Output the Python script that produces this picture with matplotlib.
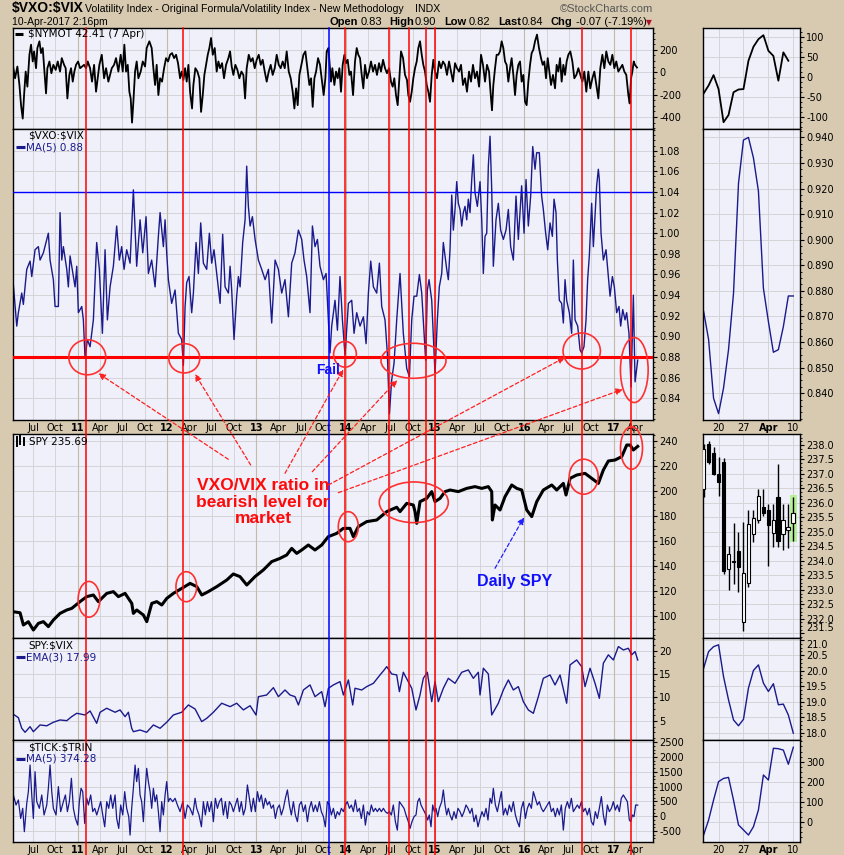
import matplotlib
matplotlib.use('Agg')
import matplotlib.pyplot as plt
import matplotlib.transforms as mtransforms
import numpy as np
from matplotlib.lines import Line2D
from matplotlib.patches import Ellipse, FancyArrowPatch
from matplotlib.ticker import AutoMinorLocator, FormatStrFormatter

# ---------------- data (x = decimal year) ----------------
nymot_t = [
    2010.279, 2010.298, 2010.324, 2010.347, 2010.365, 2010.384, 2010.399, 2010.417, 2010.436, 2010.459,
    2010.477, 2010.496, 2010.511, 2010.533, 2010.548, 2010.571, 2010.589, 2010.608, 2010.627, 2010.645,
    2010.660, 2010.683, 2010.705, 2010.727, 2010.753, 2010.776, 2010.802, 2010.821, 2010.847, 2010.865,
    2010.884, 2010.906, 2010.925, 2010.944, 2010.962, 2010.981, 2011.004, 2011.026, 2011.048, 2011.071,
    2011.093, 2011.112, 2011.138, 2011.160, 2011.183, 2011.205, 2011.224, 2011.242, 2011.269, 2011.295,
    2011.317, 2011.343, 2011.362, 2011.381, 2011.407, 2011.429, 2011.455, 2011.481, 2011.504, 2011.522,
    2011.541, 2011.560, 2011.578, 2011.593, 2011.608, 2011.623, 2011.642, 2011.660, 2011.679, 2011.705,
    2011.728, 2011.754, 2011.772, 2011.802, 2011.828, 2011.847, 2011.866, 2011.884, 2011.903, 2011.922,
    2011.944, 2011.967, 2011.989, 2012.011, 2012.034, 2012.056, 2012.079, 2012.101, 2012.123, 2012.146,
    2012.164, 2012.183, 2012.202, 2012.220, 2012.239, 2012.258, 2012.280, 2012.295, 2012.317, 2012.340,
    2012.362, 2012.381, 2012.400, 2012.418, 2012.437, 2012.456, 2012.474, 2012.493, 2012.512, 2012.534,
    2012.556, 2012.575, 2012.594, 2012.616, 2012.638, 2012.661, 2012.687, 2012.706, 2012.724, 2012.743,
    2012.765, 2012.788, 2012.810, 2012.833, 2012.855, 2012.874, 2012.892, 2012.915, 2012.937, 2012.959,
    2012.982, 2013.004, 2013.027, 2013.049, 2013.071, 2013.094, 2013.116, 2013.139, 2013.161, 2013.183,
    2013.206, 2013.228, 2013.251, 2013.273, 2013.295, 2013.318, 2013.340, 2013.363, 2013.385, 2013.407,
    2013.426, 2013.445, 2013.463, 2013.482, 2013.504, 2013.527, 2013.549, 2013.572, 2013.594, 2013.613,
    2013.631, 2013.650, 2013.669, 2013.691, 2013.713, 2013.736, 2013.754, 2013.773, 2013.788, 2013.807,
    2013.836, 2013.851, 2013.874, 2013.892, 2013.911, 2013.930, 2013.948, 2013.967, 2013.986, 2014.004,
    2014.023, 2014.042, 2014.060, 2014.083, 2014.105, 2014.124, 2014.142, 2014.161, 2014.180, 2014.198,
    2014.217, 2014.239, 2014.262, 2014.284, 2014.307, 2014.329, 2014.351, 2014.374, 2014.396, 2014.419,
    2014.441, 2014.463, 2014.486, 2014.508, 2014.527, 2014.545, 2014.564, 2014.583, 2014.601, 2014.620,
    2014.643, 2014.665, 2014.687, 2014.702, 2014.721, 2014.740, 2014.758, 2014.777, 2014.796, 2014.814,
    2014.833, 2014.852, 2014.870, 2014.889, 2014.908, 2014.926, 2014.945, 2014.964, 2014.982, 2015.001,
    2015.023, 2015.046, 2015.068, 2015.090, 2015.113, 2015.135, 2015.158, 2015.180, 2015.202, 2015.225,
    2015.247, 2015.270, 2015.292, 2015.314, 2015.337, 2015.359, 2015.382, 2015.404, 2015.426, 2015.449,
    2015.471, 2015.494, 2015.516, 2015.538, 2015.561, 2015.583, 2015.606, 2015.628, 2015.639, 2015.654,
    2015.673, 2015.691, 2015.710, 2015.729, 2015.747, 2015.766, 2015.785, 2015.803, 2015.822, 2015.841,
    2015.859, 2015.878, 2015.897, 2015.915, 2015.934, 2015.953, 2015.971, 2015.990, 2016.009, 2016.027,
    2016.046, 2016.065, 2016.083, 2016.102, 2016.121, 2016.143, 2016.165, 2016.188, 2016.207, 2016.225,
    2016.244, 2016.263, 2016.281, 2016.300, 2016.322, 2016.345, 2016.363, 2016.382, 2016.401, 2016.419,
    2016.438, 2016.457, 2016.475, 2016.494, 2016.516, 2016.539, 2016.561, 2016.584, 2016.606, 2016.628,
    2016.651, 2016.673, 2016.695, 2016.718, 2016.740, 2016.763, 2016.785, 2016.807, 2016.830, 2016.852,
    2016.875, 2016.897, 2016.919, 2016.942, 2016.964, 2016.987, 2017.009, 2017.031, 2017.054, 2017.076,
    2017.099, 2017.121, 2017.143, 2017.166, 2017.181, 2017.196, 2017.211, 2017.226, 2017.240, 2017.263]
nymot_v = [
    36, -54, 51, -114, -294, -414, -204, 6, -129, 156,
    246, 96, 186, 36, 216, 276, 171, 216, 6, -189,
    36, 96, -9, 66, 21, 96, 6, 126, 66, 36,
    -234, -24, 36, -84, 6, 66, 96, 36, 51, 66,
    36, 96, 36, -84, 66, -174, -54, 66, 156, -54,
    36, -84, -24, 36, 66, 126, 6, 156, 6, 246,
    6, 66, -174, -234, -450, -264, 6, 96, -54, 6,
    96, 51, 216, 276, 216, 36, -114, 66, -204, -54,
    -84, 36, 126, 96, 156, 171, 126, 156, 81, -54,
    6, -69, 36, -84, 66, -174, -324, -114, 36, 6,
    -54, -354, -204, -24, 66, 156, 216, 306, 156, 216,
    6, 96, 36, 81, -54, 66, 126, 186, 51, -24,
    66, 21, -54, 6, -24, -234, 36, 156, 96, 126,
    36, 111, 156, 66, 111, 6, -84, 6, 66, -24,
    36, 156, 66, 36, 96, 36, 186, 6, -54, -174,
    -324, -144, -294, -24, 66, 156, 186, 36, -114, -54,
    -309, -54, 6, 126, 66, -84, -204, -54, 186, 216,
    -84, 36, -114, 6, -54, 36, -174, 66, 156, 81,
    111, -24, 6, -204, 96, 216, 156, 126, -24, -144,
    66, -54, 6, 96, 6, 66, -24, 81, 6, 111,
    36, -9, 36, -84, -129, -54, -204, -294, -54, 186,
    126, -24, -69, -204, -264, -174, -54, 36, 96, 216,
    276, 156, 66, 6, -114, -174, -264, -24, 111, 6,
    -54, 96, 36, 96, 66, -24, 96, 6, -84, 81,
    36, 6, 66, -114, -54, -174, 6, -84, 66, -54,
    6, -129, 156, 66, -84, 66, 6, -234, -339, -114,
    36, 156, 156, 186, 276, 216, 96, 66, -84, 36,
    126, -24, -204, -24, 66, 96, -84, -24, -264, -294,
    -84, 66, 171, 201, 276, 336, 216, 126, 66, 96,
    -54, 126, 6, -114, -24, -144, 66, 6, 126, -84,
    66, -24, 96, 156, 186, 96, -54, -24, 36, -24,
    -84, 6, -174, 6, -144, -54, 6, -114, -234, 36,
    156, 36, 186, 96, 66, 156, 36, 96, 6, 36,
    66, 6, -24, -204, -279, -54, 6, 96, 66, 42]

vxo_t = [
    2010.279, 2010.317, 2010.335, 2010.373, 2010.391, 2010.429, 2010.466, 2010.485, 2010.522, 2010.559,
    2010.578, 2010.615, 2010.653, 2010.671, 2010.690, 2010.727, 2010.746, 2010.783, 2010.802, 2010.821,
    2010.839, 2010.877, 2010.895, 2010.914, 2010.951, 2010.970, 2010.989, 2011.007, 2011.045, 2011.063,
    2011.082, 2011.108, 2011.138, 2011.175, 2011.212, 2011.242, 2011.276, 2011.306, 2011.332, 2011.362,
    2011.399, 2011.436, 2011.466, 2011.492, 2011.519, 2011.548, 2011.586, 2011.623, 2011.660, 2011.698,
    2011.728, 2011.765, 2011.791, 2011.828, 2011.866, 2011.903, 2011.922, 2011.959, 2011.978, 2011.996,
    2012.015, 2012.052, 2012.090, 2012.127, 2012.164, 2012.183, 2012.202, 2012.220, 2012.246, 2012.276,
    2012.295, 2012.325, 2012.351, 2012.377, 2012.407, 2012.444, 2012.474, 2012.500, 2012.526, 2012.556,
    2012.594, 2012.623, 2012.650, 2012.687, 2012.706, 2012.724, 2012.750, 2012.780, 2012.799, 2012.818,
    2012.847, 2012.874, 2012.892, 2012.911, 2012.930, 2012.956, 2012.986, 2013.023, 2013.060, 2013.098,
    2013.135, 2013.172, 2013.210, 2013.247, 2013.284, 2013.321, 2013.359, 2013.396, 2013.433, 2013.471,
    2013.508, 2013.534, 2013.564, 2013.601, 2013.628, 2013.657, 2013.684, 2013.713, 2013.751, 2013.781,
    2013.807, 2013.825, 2013.844, 2013.881, 2013.908, 2013.937, 2013.964, 2013.993, 2014.031, 2014.068,
    2014.094, 2014.124, 2014.161, 2014.199, 2014.229, 2014.255, 2014.281, 2014.311, 2014.348, 2014.378,
    2014.404, 2014.441, 2014.467, 2014.490, 2014.516, 2014.542, 2014.572,
    2014.609, 2014.646, 2014.684, 2014.714, 2014.740, 2014.766, 2014.796, 2014.826, 2014.852, 2014.878,
    2014.896, 2014.915, 2014.934, 2014.964, 2014.982, 2015.001, 2015.027, 2015.049, 2015.076, 2015.094,
    2015.113, 2015.132, 2015.150, 2015.169, 2015.188, 2015.206, 2015.225, 2015.244, 2015.262, 2015.281,
    2015.300, 2015.318, 2015.337, 2015.356, 2015.374, 2015.393, 2015.412, 2015.430, 2015.449, 2015.475,
    2015.505, 2015.524, 2015.542, 2015.561, 2015.580, 2015.598, 2015.617, 2015.636, 2015.654, 2015.684,
    2015.710, 2015.736, 2015.766, 2015.796, 2015.822, 2015.848, 2015.878, 2015.908, 2015.934, 2015.971,
    2015.998, 2016.020, 2016.046, 2016.072, 2016.095, 2016.121, 2016.139, 2016.169, 2016.195, 2016.214,
    2016.240, 2016.263, 2016.289, 2016.315, 2016.334, 2016.356, 2016.371, 2016.393, 2016.419, 2016.438,
    2016.457, 2016.475, 2016.505, 2016.531, 2016.550, 2016.569, 2016.599, 2016.625, 2016.643, 2016.669,
    2016.692, 2016.710, 2016.729, 2016.755, 2016.774, 2016.811, 2016.830, 2016.841, 2016.860, 2016.886,
    2016.916, 2016.942, 2016.961, 2016.987, 2017.009, 2017.035, 2017.061, 2017.080, 2017.103, 2017.129,
    2017.147, 2017.173, 2017.196, 2017.222, 2017.241, 2017.271]
vxo_v = [
    0.950, 0.910, 0.923, 0.942, 0.931, 0.965, 0.973, 0.958, 0.984, 0.987,
    0.974, 0.981, 0.994, 1.000, 0.974, 0.955, 0.929, 0.929, 1.020, 0.974,
    0.987, 0.965, 0.948, 0.978, 0.958, 0.948, 0.968, 0.923, 0.929, 0.916,
    0.879, 0.897, 0.890, 0.916, 0.991, 0.965, 0.903, 0.984, 0.916, 0.948,
    0.968, 1.007, 0.974, 0.987, 0.965, 0.984, 0.971, 1.042, 0.968, 1.013,
    0.981, 1.016, 0.961, 0.974, 0.948, 0.997, 1.020, 0.987, 1.013, 0.981,
    0.955, 0.932, 0.945, 0.903, 0.897, 0.872, 0.929, 0.952, 0.958, 0.923,
    0.942, 0.991, 0.961, 1.010, 0.971, 0.965, 1.000, 0.971, 0.984, 0.961,
    0.932, 0.999, 0.948, 0.942, 0.968, 0.945, 0.897, 0.939, 0.958, 0.948,
    0.991, 1.013, 1.065, 1.026, 1.007, 1.016, 0.994, 0.974, 0.965, 0.955,
    0.965, 0.913, 0.974, 0.965, 0.942, 0.955, 0.919, 0.971, 0.981, 1.003,
    0.994, 0.974, 0.958, 0.923, 1.007, 0.987, 0.994, 0.968, 0.955, 0.961,
    0.916, 0.884, 0.910, 0.935, 0.906, 0.958, 0.916, 0.882, 0.932, 0.935,
    0.903, 0.923, 0.910, 0.919, 0.893, 0.942, 0.973, 0.948, 0.942, 0.971,
    0.929, 0.916, 0.884, 0.825, 0.858, 0.874, 0.916,
    0.961, 0.903, 0.869, 0.861, 0.916, 0.939, 0.939, 0.960, 0.942, 0.903,
    0.877, 0.945, 0.955, 0.935, 0.900, 0.864, 0.916, 0.948, 0.961, 0.991,
    0.978, 0.965, 0.955, 0.984, 1.037, 1.003, 1.023, 1.050, 1.029, 1.023,
    1.007, 1.020, 1.026, 1.013, 1.033, 1.020, 1.052, 1.076, 1.039, 1.026,
    1.050, 1.013, 0.961, 0.997, 1.000, 1.065, 1.094, 1.042, 0.968, 1.013,
    1.029, 1.003, 0.994, 1.003, 1.023, 0.987, 0.974, 1.036, 0.994, 1.046,
    1.000, 1.052, 1.007, 1.036, 1.084, 1.062, 1.078, 1.078, 1.036, 1.023,
    1.000, 0.984, 1.010, 0.997, 1.033, 1.020, 0.974, 0.935, 0.932, 0.913,
    0.955, 0.935, 0.923, 0.903, 0.974, 0.916, 0.910, 0.887, 0.884, 0.890,
    0.916, 0.955, 0.978, 1.029, 0.987, 1.046, 1.062, 1.052, 1.000, 0.974,
    0.984, 0.958, 0.939, 0.958, 0.948, 0.923, 0.929, 0.910, 0.926, 0.916,
    0.923, 0.903, 0.851, 0.940, 0.856, 0.877]

spy_t = [
    2010.279, 2010.354, 2010.391, 2010.447, 2010.503, 2010.559, 2010.615, 2010.671, 2010.727, 2010.802,
    2010.877, 2010.933, 2011.026, 2011.101, 2011.175, 2011.231, 2011.325, 2011.399, 2011.455, 2011.530,
    2011.605, 2011.623, 2011.661, 2011.735, 2011.773, 2011.829, 2011.885, 2011.941, 2011.997, 2012.071,
    2012.165, 2012.258, 2012.333, 2012.389, 2012.462, 2012.557, 2012.669, 2012.742, 2012.817, 2012.893,
    2012.985, 2013.078, 2013.172, 2013.265, 2013.340, 2013.396, 2013.452, 2013.508, 2013.582, 2013.657,
    2013.732, 2013.806, 2013.900, 2013.974, 2014.049, 2014.086, 2014.142, 2014.236, 2014.348, 2014.460,
    2014.572, 2014.609, 2014.684, 2014.758, 2014.777, 2014.796, 2014.833, 2014.908, 2014.964, 2015.001,
    2015.057, 2015.113, 2015.169, 2015.262, 2015.356, 2015.449, 2015.524, 2015.598, 2015.636, 2015.643,
    2015.673, 2015.729, 2015.785, 2015.860, 2015.916, 2015.972, 2016.028, 2016.084, 2016.140, 2016.214,
    2016.308, 2016.364, 2016.438, 2016.468, 2016.513, 2016.588, 2016.681, 2016.756, 2016.830, 2016.886,
    2016.942, 2017.017, 2017.092, 2017.148, 2017.185, 2017.222, 2017.271]
spy_v = [
    103.4, 102.6, 92.8, 95.4, 88.8, 94.1, 95.5, 91.5, 96.8, 102.1,
    104.8, 106.1, 111.5, 115.5, 116.8, 111.5, 118.1, 119.5, 115.5, 118.1,
    110.1, 102.1, 104.8, 100.8, 95.5, 110.1, 111.5, 108.8, 114.1, 118.1,
    122.1, 126.1, 123.5, 116.8, 119.5, 123.5, 128.8, 133.6, 131.5, 124.8,
    131.5, 136.8, 143.5, 146.1, 148.8, 154.1, 150.1, 152.8, 156.8, 152.8,
    156.8, 163.5, 166.1, 170.1, 170.1, 163.5, 171.5, 175.5, 176.8, 183.5,
    187.0, 183.5, 190.1, 188.8, 183.5, 174.1, 191.5, 194.1, 199.5, 191.5,
    194.1, 199.5, 200.8, 199.5, 202.1, 203.5, 202.1, 203.5, 199.5, 176.8,
    188.8, 184.8, 195.5, 204.8, 202.1, 200.8, 184.8, 179.5, 191.5, 200.8,
    204.8, 200.8, 206.1, 196.8, 210.1, 212.8, 214.1, 210.1, 206.1, 216.8,
    224.0, 224.8, 227.5, 236.8, 236.8, 232.8, 235.7]

spyvix_t = [
    2010.279, 2010.335, 2010.373, 2010.410, 2010.466, 2010.503, 2010.578, 2010.653, 2010.727, 2010.802,
    2010.877, 2010.932, 2010.989, 2011.082, 2011.138, 2011.212, 2011.250, 2011.324, 2011.418, 2011.474,
    2011.530, 2011.567, 2011.604, 2011.623, 2011.698, 2011.772, 2011.847, 2011.922, 2011.996, 2012.071,
    2012.164, 2012.239, 2012.314, 2012.388, 2012.444, 2012.519, 2012.612, 2012.706, 2012.780, 2012.855,
    2012.930, 2012.997, 2013.023, 2013.116, 2013.191, 2013.247, 2013.321, 2013.377, 2013.433, 2013.471,
    2013.527, 2013.601, 2013.657, 2013.732, 2013.769, 2013.807, 2013.863, 2013.937, 2013.975, 2014.031,
    2014.079, 2014.105, 2014.180, 2014.236, 2014.311, 2014.385, 2014.423, 2014.460, 2014.516, 2014.572,
    2014.602, 2014.646, 2014.740, 2014.788, 2014.833, 2014.870, 2014.915, 2014.964, 2015.001, 2015.038,
    2015.094, 2015.150, 2015.225, 2015.300, 2015.374, 2015.430, 2015.486, 2015.505, 2015.542, 2015.598,
    2015.636, 2015.710, 2015.766, 2015.822, 2015.878, 2015.934, 2015.990, 2016.046, 2016.102, 2016.158,
    2016.214, 2016.289, 2016.345, 2016.401, 2016.475, 2016.513, 2016.587, 2016.643, 2016.681, 2016.737,
    2016.793, 2016.841, 2016.886, 2016.942, 2016.998, 2017.054, 2017.110, 2017.166, 2017.203, 2017.241,
    2017.271]
spyvix_v = [
    6.37, 5.64, 3.37, 2.51, 3.71, 2.64, 4.08, 3.90, 4.66, 5.15,
    5.00, 5.86, 6.58, 6.22, 7.08, 4.44, 6.79, 7.66, 6.80, 7.30,
    5.86, 6.80, 3.37, 2.64, 3.00, 2.51, 4.08, 3.37, 4.66, 6.22,
    6.80, 8.36, 7.50, 4.80, 5.50, 6.80, 8.73, 8.00, 8.73, 7.30,
    8.20, 6.20, 10.14, 10.50, 12.07, 10.14, 11.57, 10.50, 10.14, 8.36,
    11.57, 12.65, 10.14, 11.21, 8.00, 11.94, 12.65, 13.36, 10.50, 13.72,
    8.36, 11.94, 11.57, 12.29, 13.00, 14.79, 15.65, 16.57, 15.00, 14.79,
    11.21, 15.36, 11.94, 7.29, 10.50, 14.07, 15.36, 9.07, 13.36, 9.07,
    11.94, 14.07, 13.00, 15.36, 15.86, 14.07, 15.36, 10.50, 16.23, 15.00,
    6.22, 8.73, 11.57, 13.72, 11.57, 12.29, 9.07, 7.29, 6.58, 10.14,
    14.07, 14.79, 12.65, 14.79, 8.73, 16.94, 18.00, 16.57, 12.29, 16.23,
    13.00, 9.79, 17.30, 19.09, 18.00, 20.86, 20.14, 20.50, 19.09, 19.80,
    17.99]

tick_t = [
    2010.279, 2010.309, 2010.335, 2010.361, 2010.384, 2010.402, 2010.429, 2010.447, 2010.466, 2010.485,
    2010.503, 2010.522, 2010.541, 2010.570, 2010.597, 2010.623, 2010.653, 2010.671, 2010.690, 2010.709,
    2010.727, 2010.757, 2010.783, 2010.809, 2010.839, 2010.862, 2010.884, 2010.906, 2010.929, 2010.951,
    2010.974, 2011.000, 2011.018, 2011.037, 2011.056, 2011.078, 2011.101, 2011.119, 2011.145, 2011.168,
    2011.190, 2011.213, 2011.235, 2011.257, 2011.280, 2011.302, 2011.325, 2011.347, 2011.369, 2011.392,
    2011.418, 2011.436, 2011.459, 2011.481, 2011.504, 2011.526, 2011.548, 2011.571, 2011.586, 2011.604,
    2011.623, 2011.642, 2011.660, 2011.679, 2011.698, 2011.716, 2011.735, 2011.754, 2011.772, 2011.791,
    2011.810, 2011.828, 2011.847, 2011.866, 2011.884, 2011.903, 2011.922, 2011.940, 2011.959, 2011.978,
    2011.996, 2012.015, 2012.034, 2012.064, 2012.090, 2012.116, 2012.146, 2012.176, 2012.202, 2012.228,
    2012.258, 2012.288, 2012.314, 2012.332, 2012.358, 2012.385, 2012.407, 2012.429, 2012.452, 2012.474,
    2012.497, 2012.519, 2012.541, 2012.564, 2012.586, 2012.609, 2012.631, 2012.653, 2012.676, 2012.698,
    2012.721, 2012.743, 2012.765, 2012.788, 2012.810, 2012.832, 2012.855, 2012.877, 2012.900, 2012.922,
    2012.944, 2012.967, 2012.989, 2013.012, 2013.034, 2013.056, 2013.079, 2013.101, 2013.124, 2013.146,
    2013.168, 2013.191, 2013.213, 2013.236, 2013.258, 2013.280, 2013.303, 2013.325, 2013.348, 2013.370,
    2013.392, 2013.415, 2013.437, 2013.460, 2013.482, 2013.504, 2013.527, 2013.549, 2013.572, 2013.594,
    2013.616, 2013.639, 2013.661, 2013.683, 2013.706, 2013.728, 2013.751, 2013.773, 2013.795, 2013.818,
    2013.840, 2013.863, 2013.885, 2013.907, 2013.930, 2013.952, 2013.975, 2013.997, 2014.019, 2014.042,
    2014.064, 2014.087, 2014.109, 2014.131, 2014.154, 2014.176, 2014.199, 2014.221, 2014.243, 2014.266,
    2014.288, 2014.311, 2014.333, 2014.355, 2014.378, 2014.400, 2014.423, 2014.445, 2014.467, 2014.490,
    2014.512, 2014.534, 2014.557, 2014.579, 2014.602,
    2014.628, 2014.654, 2014.676, 2014.702, 2014.721, 2014.743, 2014.766, 2014.788, 2014.807, 2014.826,
    2014.844, 2014.863, 2014.881, 2014.900, 2014.919, 2014.937, 2014.956, 2014.975, 2014.993, 2015.012,
    2015.031, 2015.049, 2015.076, 2015.094, 2015.113, 2015.132, 2015.150, 2015.169, 2015.191, 2015.214,
    2015.236, 2015.258, 2015.281, 2015.303, 2015.326, 2015.348, 2015.370, 2015.393, 2015.415, 2015.438,
    2015.460, 2015.482, 2015.505, 2015.527, 2015.550, 2015.572, 2015.594, 2015.617, 2015.636, 2015.654,
    2015.677, 2015.699, 2015.721, 2015.744, 2015.766, 2015.789, 2015.811, 2015.833, 2015.856, 2015.878,
    2015.901, 2015.923, 2015.945, 2015.968, 2015.990, 2016.013, 2016.035, 2016.057, 2016.080, 2016.102,
    2016.125, 2016.147, 2016.169, 2016.192, 2016.214, 2016.236, 2016.259, 2016.281, 2016.304, 2016.326,
    2016.348, 2016.371, 2016.393, 2016.416, 2016.438, 2016.460, 2016.483, 2016.505, 2016.528, 2016.550,
    2016.572, 2016.595, 2016.617, 2016.640, 2016.662, 2016.684, 2016.707, 2016.729, 2016.752, 2016.774,
    2016.796, 2016.819, 2016.841, 2016.864, 2016.886, 2016.908, 2016.931, 2016.953, 2016.976, 2016.998,
    2017.020, 2017.043, 2017.065, 2017.087, 2017.110, 2017.132, 2017.155, 2017.177, 2017.192, 2017.211,
    2017.229, 2017.248, 2017.271]
tick_v = [
    719, 380, 550, -75, 267, -523, 437, 831, 1731, 719,
    -75, 1506, 493, 267, 719, 42, 380, 944, 1731, 831,
    267, 42, 1001, 155, 493, 719, 155, 493, 1283, 267,
    -75, -300, 493, 944, 831, -244, 606, 380, 719, 155,
    267, 42, 267, 493, 42, -357, 493, 267, 719, 267,
    719, -75, -413, 380, 42, 831, 267, -15, -638, 267,
    944, 1731, 1170, 1619, 719, 493, -184, 831, 1619, 1170,
    831, 267, 944, 493, 719, 155, -523, 493, 42, 719,
    1170, 493, 606, 493, 606, 380, 155, 493, -75, 380,
    267, 42, 606, 267, 42, -357, 493, 42, 493, 155,
    493, -184, 606, 267, 493, 606, 42, 493, -75, 493,
    380, 155, 380, 606, 155, 493, 42, 267, 1057, 606,
    155, 606, 155, 831, 493, 719, 267, 606, 380, 493,
    267, 380, -75, 267, 380, 42, 267, 606, 888, 380,
    42, 493, 42, -184, 380, 493, 155, 380, -184, 267,
    493, 155, 380, 155, 493, 155, -15, -357, 493, 380,
    42, 267, -75, 155, 42, 267, 155, 380, 493, 267,
    380, 155, 550, 155, 267, -75, 380, -300, 155, 42,
    380, 155, 267, 155, 267, 155, 267, 155, 98, 155,
    42, 380, -184, -470, 493,
    380, 267, 42, -184, -413, -184, -15, 42, 493, 606,
    380, 267, 155, 42, -128, 42, -357, 380, 155, 267,
    -15, 267, 493, 888, 380, 42, 267, 42, -128, 155,
    -75, 267, 155, -15, 155, 380, 267, 98, 267, -184,
    42, -357, -75, 155, -15, 267, -128, 606, 437, 944,
    380, 155, 493, 831, 42, 267, 42, 380, 155, 493,
    42, -184, -357, 267, 493, -75, 267, 437, 267, 831,
    606, 380, 493, 267, 155, 267, 380, 493, 155, 267,
    -15, 267, 42, 380, -470, 267, 493, 267, 606, 155,
    267, 380, 267, 493, 155, 267, 42, 267, -184, -300,
    155, -75, 267, 662, 42, -300, 380, 155, 267, 493,
    211, 380, 155, 606, 719, 606, 493, -128, -184, 42,
    -15, 380, 374]

# vertical event lines (decimal year, colour)
event_t = [2011.090, 2012.183, 2013.818, 2013.997, 2014.489, 2014.713, 2014.897, 2015.001, 2016.644, 2017.196]
event_c = ['red', 'red', 'blue', 'red', 'red', 'red', 'red', 'red', 'red', 'red']

x_tick_pos = [2010.5, 2010.75] + [y + q for y in range(2011, 2017) for q in (0, 0.25, 0.5, 0.75)] + [2017.0, 2017.25]
x_tick_lab = ['Jul', 'Oct'] + [l for y in range(11, 17) for l in (str(y), 'Apr', 'Jul', 'Oct')] + ['17', 'Apr']

# last month, one value per trading day (15-Mar .. 10-Apr 2017)
r_tick_pos = [3, 8, 13, 18]
r_tick_lab = ['20', '27', 'Apr', '10']
r_nymot = [-42, -22, 4, -31, -114, -96, -39, -32, -31, 40, 75, 94, 104, 65, 52, -10, 61, 40]
r_vxo = [0.872, 0.861, 0.838, 0.832, 0.842, 0.857, 0.879, 0.922, 0.939, 0.940,
         0.932, 0.919, 0.881, 0.868, 0.856, 0.857, 0.866, 0.878, 0.878]
r_spyvix = [20.08, 20.62, 20.78, 20.84, 19.81, 19.06, 18.41, 18.22, 18.43, 19.44,
            20.01, 20.19, 19.60, 19.33, 19.58, 18.90, 18.92, 18.57, 17.98]
r_tick = [-63, 11, 110, 201, 217, 222, 110, -13, -38, -63, -22, 61, 234, 209, 366, 364, 357, 287, 371]
spy_open = [236.48, 238.03, 237.71, 237.00, 237.40, 233.72, 234.00, 234.33, 231.89, 233.23,
            234.93, 235.41, 235.85, 235.76, 234.96, 236.20, 234.93, 235.08, 235.30]
spy_high = [238.05, 238.14, 237.92, 237.58, 237.55, 234.53, 235.30, 234.99, 235.33, 235.76,
            235.76, 236.48, 236.48, 235.97, 235.97, 237.34, 235.97, 235.97, 236.20]
spy_low = [236.20, 237.35, 236.95, 236.25, 233.55, 232.98, 233.20, 232.92, 231.58, 233.09,
           234.64, 235.30, 235.56, 233.84, 234.47, 234.47, 234.36, 234.43, 234.68]
spy_close = [237.86, 237.40, 237.00, 236.71, 233.66, 234.24, 233.98, 233.80, 233.58, 235.28,
             235.48, 236.23, 235.64, 235.25, 235.41, 234.70, 235.41, 235.16, 235.64]

# ---------------- layout ----------------
BG = '#d8cab0'
PANEL = '#eff0f9'
GRID = '#d4d4d8'
YEARGRID = '#c4bcaa'
NAVY = '#1a1a8c'

plt.rcParams['font.family'] = 'DejaVu Sans'
plt.rcParams['axes.unicode_minus'] = False
plt.rcParams['text.parse_math'] = False

W, H = 845, 855
fig = plt.figure(figsize=(W / 100, H / 100), dpi=100, facecolor=BG)


def px_axes(x0, y0, x1, y1):
    return fig.add_axes([x0 / W, 1 - y1 / H, (x1 - x0) / W, (y1 - y0) / H])


def ptext(x, y, s, **kw):
    kw.setdefault('va', 'center')
    fig.text(x / W, 1 - y / H, s, **kw)


rows = [(28, 129), (129, 420), (434, 638), (638, 740), (740, 842)]
axl = [px_axes(13, r0, 653, r1) for r0, r1 in rows]
axr = [px_axes(703, r0, 800, r1) for r0, r1 in rows]


def style(ax, ylim, yticks, fmt):
    ax.set_facecolor(PANEL)
    ax.set_ylim(*ylim)
    ax.set_yticks(yticks)
    ax.yaxis.set_major_formatter(FormatStrFormatter(fmt))
    ax.yaxis.set_minor_locator(AutoMinorLocator(4))
    ax.yaxis.tick_right()
    ax.tick_params(axis='y', which='major', length=3, width=0.8, labelsize=7, pad=1.5)
    ax.tick_params(axis='y', which='minor', length=1.5, width=0.6)
    ax.tick_params(axis='x', length=0, labelsize=7, pad=2)
    ax.grid(True, which='major', color=GRID, lw=0.7)
    ax.set_axisbelow(True)
    for s in ax.spines.values():
        s.set_linewidth(1.0)


lims_l = [(-507, 395), (0.819, 1.101), (82.4, 245.6), (0.86, 22.7), (-872, 2578)]
ticks_l = [[-400, -200, 0, 200], np.arange(0.84, 1.081, 0.02), range(100, 241, 20),
           [5, 10, 15, 20], range(-500, 2501, 500)]
fmts_l = ['%d', '%.2f', '%d', '%d', '%d']
lims_r = [(-131, 122), (0.8295, 0.9433), (231.34, 238.38), (17.76, 21.06), (-97.5, 407)]
ticks_r = [[-100, -50, 0, 50, 100], np.arange(0.84, 0.9401, 0.01), np.arange(231.5, 238.01, 0.5),
           np.arange(18, 21.01, 0.5), [0, 100, 200, 300]]
fmts_r = ['%d', '%.3f', '%.1f', '%.1f', '%d']

for i, ax in enumerate(axl):
    style(ax, lims_l[i], ticks_l[i], fmts_l[i])
    ax.set_xlim(2010.275, 2017.442)
    ax.set_xticks(x_tick_pos)
    if i in (1, 4):
        ax.set_xticklabels(x_tick_lab)
        for lab in ax.get_xticklabels():
            if lab.get_text().isdigit():
                lab.set_fontweight('bold')
    else:
        ax.set_xticklabels([])
    for yr in range(2011, 2018):
        ax.axvline(yr, color=YEARGRID, lw=0.8, zorder=0.6)

for i, ax in enumerate(axr):
    style(ax, lims_r[i], ticks_r[i], fmts_r[i])
    ax.set_xlim(-0.12, 19.34)
    ax.set_xticks(r_tick_pos)
    if i in (1, 4):
        ax.set_xticklabels(r_tick_lab)
        ax.get_xticklabels()[2].set_fontweight('bold')
    else:
        ax.set_xticklabels([])

# keep the stacked end labels of the right column apart
axr[2].get_yticklabels()[0].set_va('bottom')
axr[3].get_yticklabels()[-1].set_va('top')

# ---------------- long-term panels ----------------
axl[0].plot(nymot_t, nymot_v, color='black', lw=1.3)
axl[1].plot(vxo_t, vxo_v, color=NAVY, lw=1.0)
axl[1].axhline(0.88, color='#ff0000', lw=2.2, zorder=3)
axl[1].axhline(1.04, color='#0000ff', lw=1.0, zorder=3)
axl[2].plot(spy_t, spy_v, color='black', lw=2.2)
axl[3].plot(spyvix_t, spyvix_v, color=NAVY, lw=1.0)
axl[4].plot(tick_t, tick_v, color=NAVY, lw=0.9)

blend = mtransforms.blended_transform_factory(axl[1].transData, fig.transFigure)
for t, c in zip(event_t, event_c):
    fig.add_artist(Line2D([t, t], [0, 1 - 28 / H], transform=blend,
                          color='#ff0000' if c == 'red' else '#0000ff', lw=1.1, zorder=3))

# ---------------- last-month panels ----------------
axr[0].plot(range(len(r_nymot)), r_nymot, color='black', lw=1.3)
axr[1].plot(range(len(r_vxo)), r_vxo, color=NAVY, lw=1.0)
axr[3].plot(range(len(r_spyvix)), r_spyvix, color=NAVY, lw=1.0)
axr[4].plot(range(len(r_tick)), r_tick, color=NAVY, lw=1.0)

last = len(spy_close) - 1
axr[2].bar(last, spy_high[last] - spy_low[last] + 0.1, bottom=spy_low[last] - 0.03,
           width=1.3, color='#b7f096', zorder=1)
for i, (o, h, l, c) in enumerate(zip(spy_open, spy_high, spy_low, spy_close)):
    axr[2].vlines(i, l, h, color='black', lw=1.0, zorder=2)
    axr[2].bar(i, max(abs(c - o), 0.03), bottom=min(o, c), width=0.75,
               color='white' if c >= o else 'black', edgecolor='black', lw=0.8, zorder=3)

# ---------------- header ----------------
ptext(12, 8, '$VXO:$VIX', fontsize=10, fontweight='bold', family='Liberation Sans')
ptext(85, 8.5, 'Volatility Index - Original Formula/Volatility Index - New Methodology',
      fontsize=7.6, family='Liberation Sans')
ptext(415, 8.5, 'INDX', fontsize=7.6, family='Liberation Sans')
ptext(653, 8.5, '\u00a9StockCharts.com', fontsize=8, family='Liberation Sans',
      color='#555555', ha='right')
ptext(12, 22, '10-Apr-2017 2:16pm', fontsize=7.5, family='Liberation Sans')
for x, s, bold in [(330, 'Open', True), (361, '0.83', False), (389, 'High', True), (415, '0.90', False),
                   (444, 'Low', True), (469, '0.82', False), (498, 'Last', True), (522, '0.84', False),
                   (551, 'Chg', True), (576, '-0.07 (-7.19%)', False)]:
    ptext(x, 22, s, fontsize=8, family='Liberation Sans', fontweight='bold' if bold else 'normal')
ptext(646, 22.5, '\u25bc', fontsize=5.5, color='#b0102a')

# panel legends
ptext(28, 34, '$NYMOT 42.41 (7 Apr)', fontsize=7.5)
ptext(28, 136, '$VXO:$VIX', fontsize=7.5)
ptext(26.5, 147.5, 'MA(5) 0.88', fontsize=7.5, color=NAVY)
ptext(29, 441.5, 'SPY 235.69', fontsize=7.5)
ptext(28, 645.5, 'SPY:$VIX', fontsize=7.5)
ptext(26.5, 657, 'EMA(3) 17.99', fontsize=7.5, color=NAVY)
ptext(28, 747.5, '$TICK:$TRIN', fontsize=7.5)
ptext(26.5, 758.5, 'MA(5) 374.28', fontsize=7.5, color=NAVY)

# ---------------- annotation layer (pixel space) ----------------
ov = fig.add_axes([0, 0, 1, 1], zorder=10)
ov.set_xlim(0, W)
ov.set_ylim(H, 0)
ov.axis('off')
ov.patch.set_alpha(0)

for x0, x1, y, c in [(15, 23, 34, 'black'), (16, 25, 147.5, NAVY), (16, 25, 657, NAVY), (16, 25, 758.5, NAVY)]:
    ov.plot([x0, x1], [y, y], color=c, lw=2.2, solid_capstyle='butt')
for x, y0, y1 in [(17, 437, 446), (20.5, 436, 444), (24, 438, 445)]:
    ov.plot([x, x], [y0, y1], color='black', lw=1.4)

circles = [(87.3, 357.3, 37, 35), (184.3, 358.3, 31, 29.3), (345, 354.3, 22.7, 25.7),
           (413.5, 360.8, 65, 35), (581.7, 351, 37.3, 36), (634.3, 370, 27.7, 65),
           (89, 599.3, 21.7, 35.7), (186.3, 586.7, 20.7, 30), (348.3, 526.7, 20, 30),
           (413.8, 502.3, 69, 40.7), (583.7, 476.7, 29, 35), (631.5, 448, 22, 42.6)]
for cx, cy, w, h in circles:
    ov.add_patch(Ellipse((cx, cy), w, h, fill=False, edgecolor='#ff3030', lw=1.2))

arrows = [((228.3, 459.3), (98.3, 373.3)), ((250.7, 465), (195, 374)),
          ((285, 473.3), (343.3, 369.3)), ((312.3, 471.7), (397.3, 380)),
          ((328.3, 485), (565, 357.3)), ((338.3, 492.7), (622.7, 389.3))]
for a, b in arrows:
    ov.add_patch(FancyArrowPatch(a, b, arrowstyle='-|>', mutation_scale=10, color='#ff2020',
                                 lw=0.9, linestyle=(0, (3, 2)), shrinkA=0, shrinkB=0))
ov.add_patch(FancyArrowPatch((495, 568.3), (524, 517.3), arrowstyle='-|>', mutation_scale=10,
                             color='#2020ff', lw=0.9, linestyle=(0, (3, 2)), shrinkA=0, shrinkB=0))

ov.text(263, 502, 'VXO/VIX ratio in\nbearish level for\nmarket', ha='center', va='center',
        color='#ff0a0a', fontsize=12.5, fontweight='bold', family='Liberation Sans', linespacing=1.12)
ov.text(328.5, 369.5, 'Fail', ha='center', va='center', color='#1010ff', fontsize=10,
        fontweight='bold', family='Liberation Sans')
ov.text(515, 581.5, 'Daily SPY', ha='center', va='center', color='#1010ff', fontsize=11.5,
        fontweight='bold', family='Liberation Sans')

fig.savefig('out.png', dpi=100, facecolor=BG)
